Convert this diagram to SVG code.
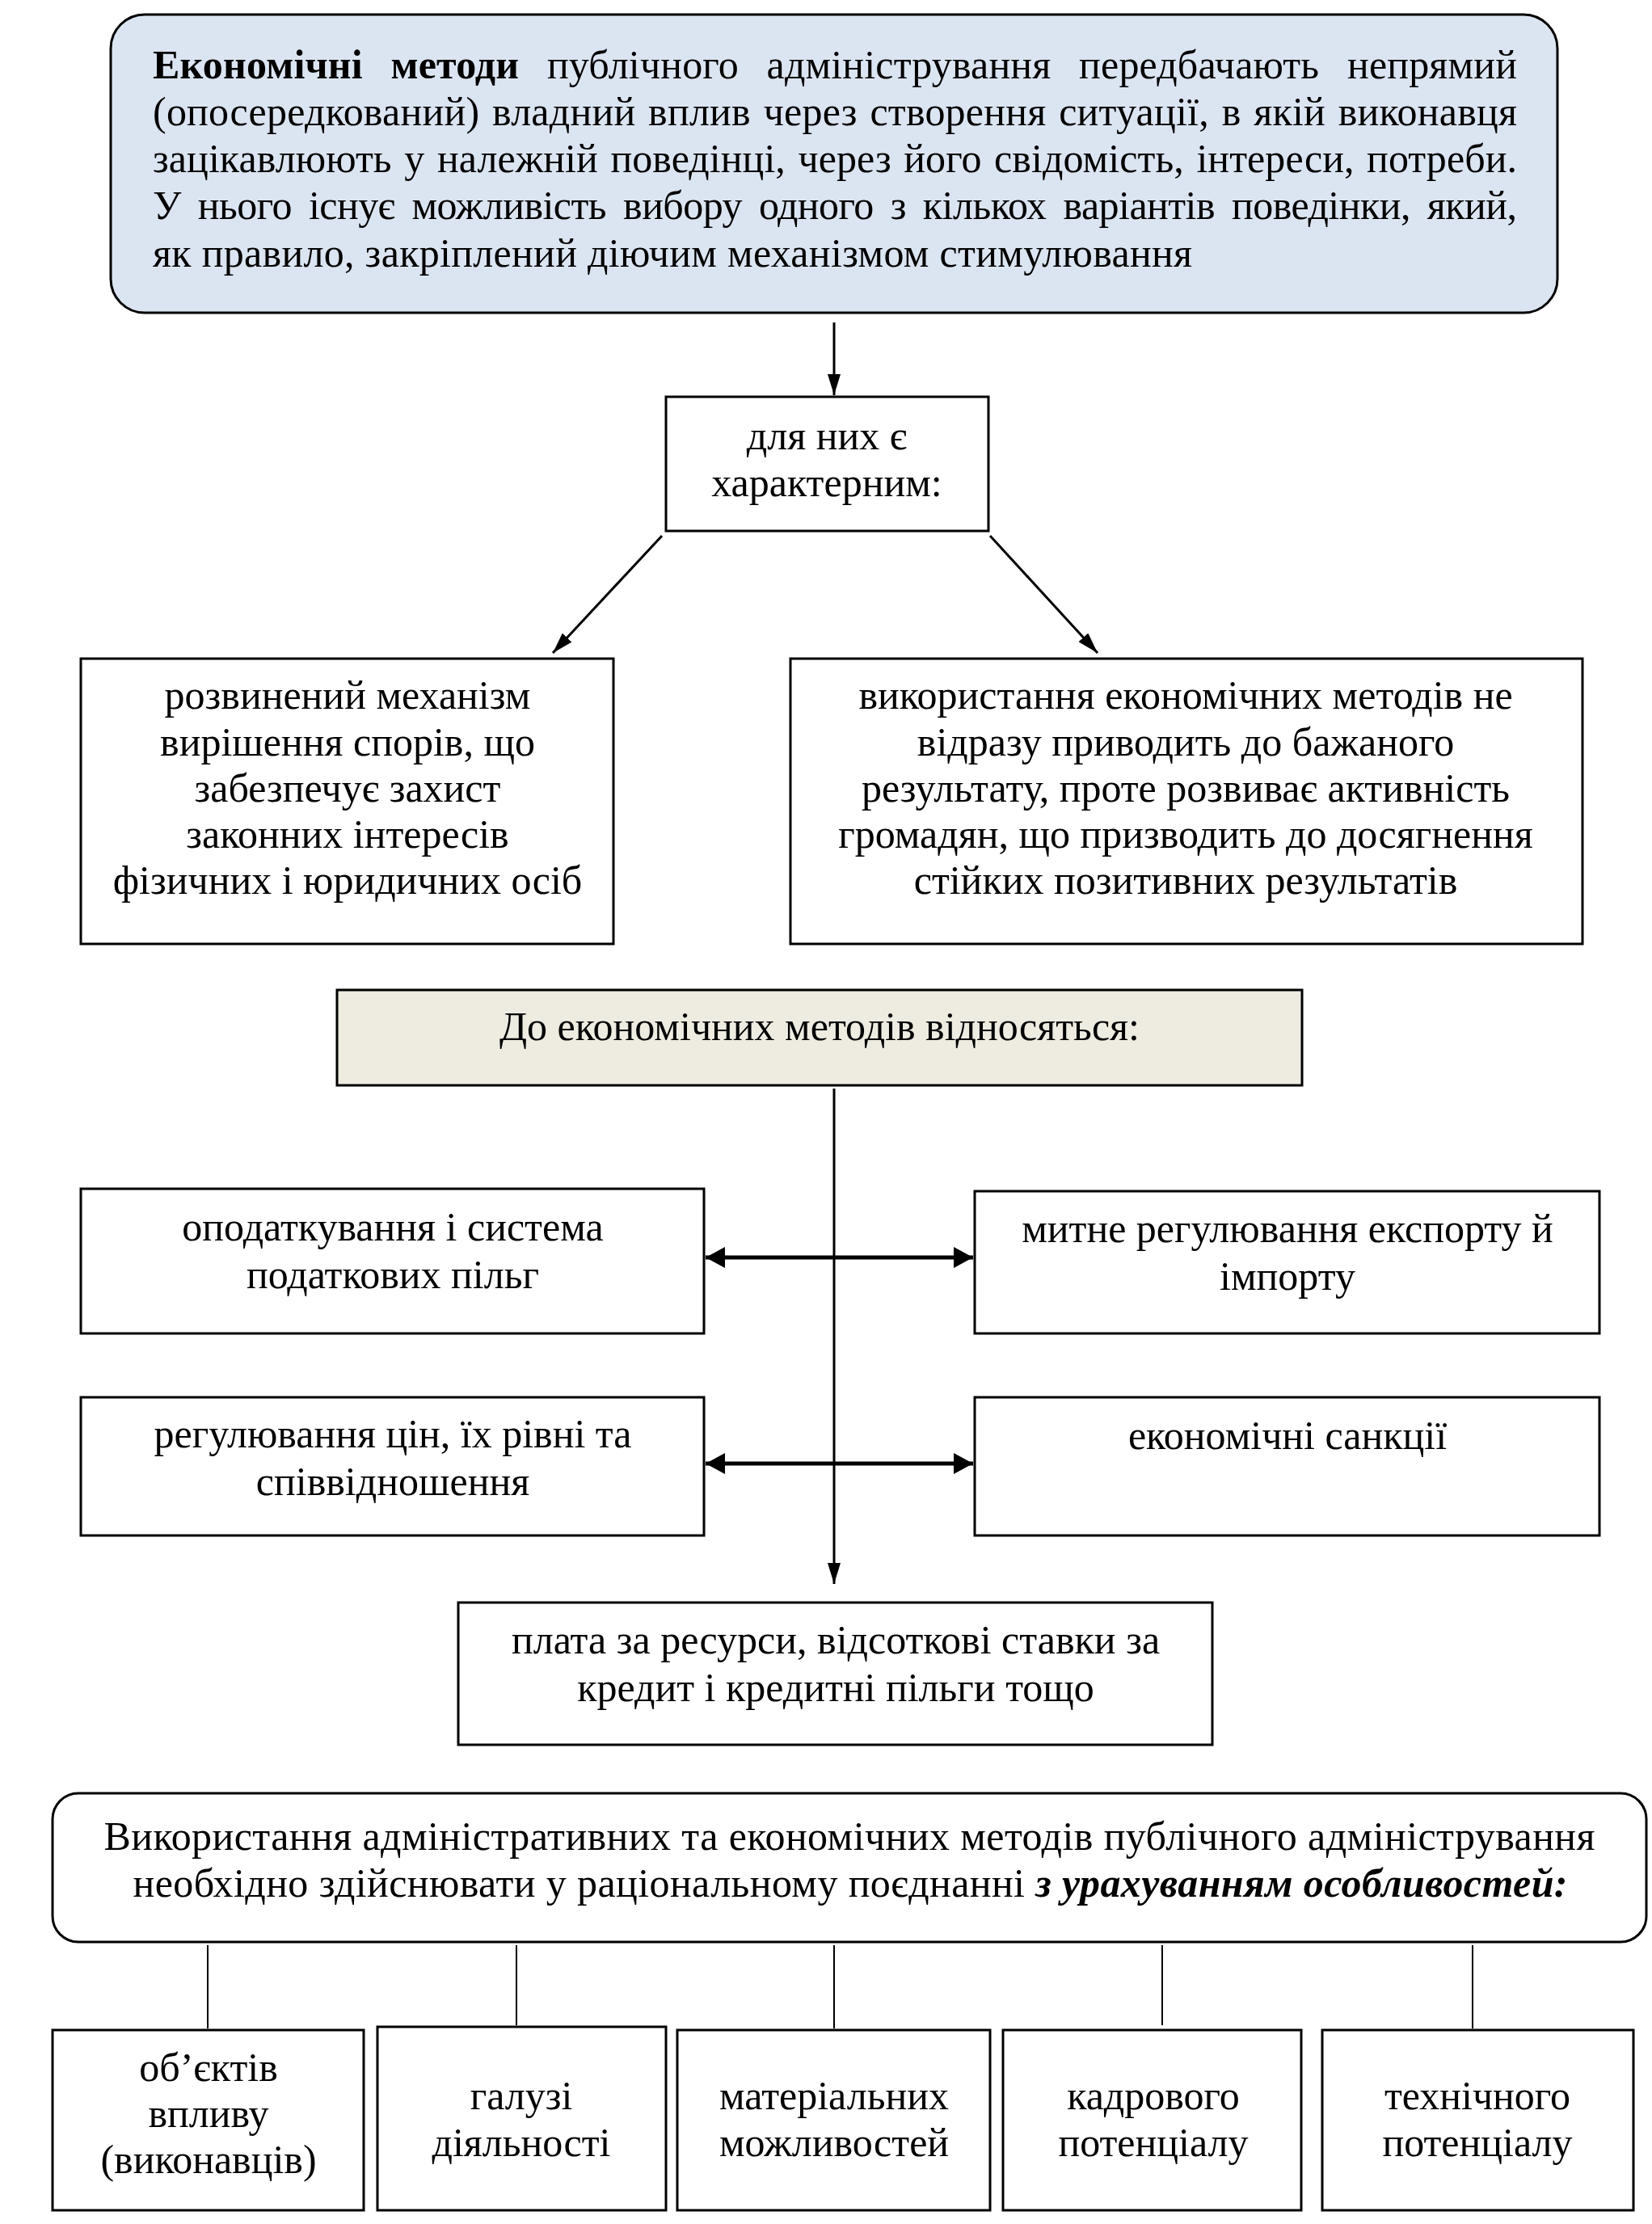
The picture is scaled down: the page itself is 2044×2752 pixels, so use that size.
<svg xmlns="http://www.w3.org/2000/svg" width="2044" height="2752" viewBox="0 0 2044 2752">
<style>
text{font-family:"Liberation Serif","Times New Roman",serif;font-size:50px;fill:#000}
.c{text-anchor:middle}
.box{fill:#fff;stroke:#000;stroke-width:3}
.ln{stroke:#000;stroke-width:3;fill:none}
.thk{stroke:#000;stroke-width:5;fill:none}
.thin{stroke:#000;stroke-width:2;fill:none}
</style>
<defs>
<marker id="ah" viewBox="0 0 26 16" refX="26" refY="8" markerWidth="26" markerHeight="16" markerUnits="userSpaceOnUse" orient="auto"><path d="M0,0 L26,8 L0,16 z" fill="#000"/></marker>
<marker id="ah2" viewBox="0 0 24 26" refX="24" refY="13" markerWidth="24" markerHeight="26" markerUnits="userSpaceOnUse" orient="auto-start-reverse"><path d="M0,0 L24,13 L0,26 z" fill="#000"/></marker>
</defs>

<g id="n-top">
<rect x="137" y="18" width="1790" height="369" rx="42" ry="42" fill="#dbe5f1" stroke="#000" stroke-width="3"/>
<text x="189" y="97" textLength="1688" lengthAdjust="spacing" word-spacing="22"><tspan font-weight="bold">Економічні методи</tspan> публічного адміністрування передбачають непрямий</text>
<text x="189" y="155" textLength="1688" lengthAdjust="spacing" word-spacing="3">(опосередкований) владний вплив через створення ситуації, в якій виконавця</text>
<text x="189" y="213" textLength="1688" lengthAdjust="spacing" word-spacing="3">зацікавлюють у належній поведінці, через його свідомість, інтереси, потреби.</text>
<text x="189" y="271" textLength="1688" lengthAdjust="spacing" word-spacing="9">У нього існує можливість вибору одного з кількох варіантів поведінки, який,</text>
<text x="189" y="330" textLength="1286" lengthAdjust="spacing">як правило, закріплений діючим механізмом стимулювання</text>
</g>

<g id="n-char">
<rect class="box" x="824" y="491" width="399" height="166"/>
<text class="c" x="1023" y="556">для них є</text>
<text class="c" x="1023" y="614">характерним:</text>
</g>

<g id="n-left">
<rect class="box" x="100" y="815" width="659" height="353"/>
<text class="c" x="430" y="877">розвинений механізм</text>
<text class="c" x="430" y="935">вирішення спорів, що</text>
<text class="c" x="430" y="992">забезпечує захист</text>
<text class="c" x="430" y="1049">законних інтересів</text>
<text class="c" x="430" y="1106">фізичних і юридичних осіб</text>
</g>

<g id="n-right">
<rect class="box" x="978" y="815" width="980" height="353"/>
<text class="c" x="1467" y="877">використання економічних методів не</text>
<text class="c" x="1467" y="935">відразу приводить до бажаного</text>
<text class="c" x="1467" y="992">результату, проте розвиває активність</text>
<text class="c" x="1467" y="1049">громадян, що призводить до досягнення</text>
<text class="c" x="1467" y="1106">стійких позитивних результатів</text>
</g>

<g id="n-do">
<rect x="417" y="1225" width="1194" height="118" fill="#eeece1" stroke="#000" stroke-width="3"/>
<text class="c" x="1014" y="1287">До економічних методів відносяться:</text>
</g>

<g id="n-tax">
<rect class="box" x="100" y="1471" width="771" height="179"/>
<text class="c" x="486" y="1535">оподаткування і система</text>
<text class="c" x="486" y="1594">податкових пільг</text>
</g>

<g id="n-customs">
<rect class="box" x="1206" y="1474" width="773" height="176"/>
<text class="c" x="1593" y="1537">митне регулювання експорту й</text>
<text class="c" x="1593" y="1596">імпорту</text>
</g>

<g id="n-prices">
<rect class="box" x="100" y="1729" width="771" height="171"/>
<text class="c" x="486" y="1791">регулювання цін, їх рівні та</text>
<text class="c" x="486" y="1850">співвідношення</text>
</g>

<g id="n-sanctions">
<rect class="box" x="1206" y="1729" width="773" height="171"/>
<text class="c" x="1593" y="1793">економічні санкції</text>
</g>

<g id="n-pay">
<rect class="box" x="567" y="1983" width="933" height="176"/>
<text class="c" x="1034" y="2046">плата за ресурси, відсоткові ставки за</text>
<text class="c" x="1034" y="2105">кредит і кредитні пільги тощо</text>
</g>

<g id="n-use">
<rect x="65" y="2219" width="1972" height="184" rx="32" ry="32" fill="#fff" stroke="#000" stroke-width="3"/>
<text class="c" x="1051" y="2289" textLength="1845" lengthAdjust="spacing">Використання адміністративних та економічних методів публічного адміністрування</text>
<text class="c" x="1052" y="2347" textLength="1775" lengthAdjust="spacing">необхідно здійснювати у раціональному поєднанні <tspan font-weight="bold" font-style="italic">з урахуванням особливостей:</tspan></text>
</g>

<g id="n-b1">
<rect class="box" x="65" y="2512" width="385" height="223"/>
<text class="c" x="258" y="2575">об’єктів</text>
<text class="c" x="258" y="2632">впливу</text>
<text class="c" x="258" y="2689">(виконавців)</text>
</g>
<g id="n-b2">
<rect class="box" x="467" y="2508" width="357" height="227"/>
<text class="c" x="645" y="2610">галузі</text>
<text class="c" x="645" y="2668">діяльності</text>
</g>
<g id="n-b3">
<rect class="box" x="838" y="2512" width="387" height="223"/>
<text class="c" x="1032" y="2610">матеріальних</text>
<text class="c" x="1032" y="2668">можливостей</text>
</g>
<g id="n-b4">
<rect class="box" x="1241" y="2512" width="369" height="223"/>
<text class="c" x="1427" y="2610">кадрового</text>
<text class="c" x="1427" y="2668">потенціалу</text>
</g>
<g id="n-b5">
<rect class="box" x="1636" y="2512" width="385" height="223"/>
<text class="c" x="1828" y="2610">технічного</text>
<text class="c" x="1828" y="2668">потенціалу</text>
</g>

<g id="connectors">
<line class="ln" x1="1032" y1="399" x2="1032" y2="489" marker-end="url(#ah)"/>
<line class="ln" x1="819" y1="663" x2="684" y2="808" marker-end="url(#ah)"/>
<line class="ln" x1="1225" y1="663" x2="1358" y2="808" marker-end="url(#ah)"/>
<line class="ln" x1="1032" y1="1347" x2="1032" y2="1960" marker-end="url(#ah)"/>
<line class="thk" x1="873" y1="1556" x2="1204" y2="1556" marker-start="url(#ah2)" marker-end="url(#ah2)"/>
<line class="thk" x1="873" y1="1811" x2="1204" y2="1811" marker-start="url(#ah2)" marker-end="url(#ah2)"/>
<line class="thin" x1="257" y1="2407" x2="257" y2="2510"/>
<line class="thin" x1="639" y1="2407" x2="639" y2="2506"/>
<line class="thin" x1="1032" y1="2407" x2="1032" y2="2510"/>
<line class="thin" x1="1438" y1="2407" x2="1438" y2="2506"/>
<line class="thin" x1="1822" y1="2407" x2="1822" y2="2510"/>
</g>
</svg>
